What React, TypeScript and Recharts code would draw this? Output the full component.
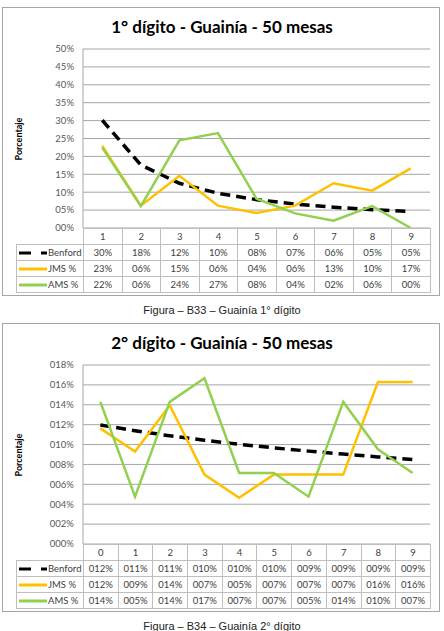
import React from "react";
import { LineChart, Line, XAxis, YAxis, CartesianGrid } from "recharts";

// first digit, 50 tables
const FIRST_DIGITS = [1, 2, 3, 4, 5, 6, 7, 8, 9];
const FIRST_BENFORD = [30.1, 17.6, 12.49, 9.69, 7.92, 6.69, 5.8, 5.12, 4.58];
const FIRST_JMS = [22.92, 6.25, 14.58, 6.25, 4.17, 6.25, 12.5, 10.42, 16.67];
const FIRST_AMS = [22.45, 6.12, 24.49, 26.53, 8.16, 4.08, 2.04, 6.12, 0];

// second digit, 50 tables
const SECOND_DIGITS = [0, 1, 2, 3, 4, 5, 6, 7, 8, 9];
const SECOND_BENFORD = [11.97, 11.39, 10.88, 10.43, 10.03, 9.67, 9.34, 9.04, 8.76, 8.5];
const SECOND_JMS = [11.63, 9.3, 13.95, 6.98, 4.65, 6.98, 6.98, 6.98, 16.28, 16.28];
const SECOND_AMS = [14.29, 4.76, 14.29, 16.67, 7.14, 7.14, 4.76, 14.29, 9.52, 7.14];

const BLACK = "#000000";
const ORANGE = "#FFC000";
const GREEN = "#92D050";
const GRID = "#a6a6a6";
const CELL = "#bfbfbf";
const FONT = "Lato, 'Open Sans', sans-serif";

const PLOT_L = 83;
const PLOT_R = 430;
const PLOT_T = 49;
const PLOT_B = 228;

type PanelProps = {
  top: number;
  title: string;
  caption: string;
  digits: number[];
  benford: number[];
  jms: number[];
  ams: number[];
  yMax: number;
  yStep: number;
  pad: number;
};

function Swatch({ color, dash }: { color: string; dash?: string }) {
  return (
    <svg width={31} height={6} style={{ display: "block", flex: "none" }}>
      <line x1={2} y1={3} x2={30} y2={3} stroke={color} strokeWidth={3} strokeDasharray={dash} />
    </svg>
  );
}

function Panel(p: PanelProps) {
  const rows = p.digits.map((d, i) => ({ d, benford: p.benford[i], jms: p.jms[i], ams: p.ams[i] }));
  const ticks: number[] = [];
  for (let v = 0; v <= p.yMax; v += p.yStep) ticks.push(v);
  const fmt = (v: number) => String(Math.round(v)).padStart(p.pad, "0") + "%";
  const colW = (PLOT_R - PLOT_L) / p.digits.length;

  const cell: React.CSSProperties = {
    border: `1px solid ${CELL}`,
    padding: 0,
    height: 15,
    lineHeight: "14px",
    textAlign: "center",
    verticalAlign: "middle",
  };

  const series = [
    { name: "Benford", values: p.benford, color: BLACK, dash: "12 10" },
    { name: "JMS %", values: p.jms, color: ORANGE },
    { name: "AMS %", values: p.ams, color: GREEN },
  ];

  return (
    <div style={{ position: "absolute", left: 0, top: p.top, width: 444, height: 316 }}>
      <div
        style={{
          position: "absolute",
          left: 2,
          top: 7,
          width: 438,
          height: 289,
          border: `1px solid ${GRID}`,
          boxSizing: "border-box",
        }}
      />
      <div
        style={{
          position: "absolute",
          left: 0,
          top: 16,
          width: 444,
          textAlign: "center",
          fontFamily: FONT,
          fontWeight: 700,
          fontSize: 17,
          lineHeight: "22px",
          color: "#000",
        }}
      >
        {p.title}
      </div>
      <div
        style={{
          position: "absolute",
          left: 18,
          top: (PLOT_T + PLOT_B) / 2,
          transform: "translate(-50%, -50%) rotate(-90deg)",
          fontFamily: FONT,
          fontWeight: 700,
          fontSize: 9,
          whiteSpace: "nowrap",
          color: "#000",
        }}
      >
        Porcentaje
      </div>
      <div style={{ position: "absolute", left: 0, top: 0 }}>
        <LineChart
          width={444}
          height={295}
          data={rows}
          margin={{ top: PLOT_T, right: 444 - PLOT_R, bottom: 295 - PLOT_B, left: 0 }}
        >
          <CartesianGrid vertical={false} stroke={GRID} />
          <XAxis
            type="number"
            dataKey="d"
            domain={[p.digits[0] - 0.5, p.digits[p.digits.length - 1] + 0.5]}
            hide
          />
          <YAxis
            width={PLOT_L}
            domain={[0, p.yMax]}
            ticks={ticks}
            interval={0}
            tickLine={false}
            tickMargin={3}
            axisLine={{ stroke: GRID }}
            tick={{ fontSize: 9.5, fill: "#595959", fontFamily: FONT }}
            tickFormatter={fmt}
          />
          <Line
            type="linear"
            dataKey="benford"
            stroke={BLACK}
            strokeWidth={3.5}
            strokeDasharray="10 6"
            dot={false}
            isAnimationActive={false}
          />
          <Line type="linear" dataKey="jms" stroke={ORANGE} strokeWidth={2.5} dot={false} isAnimationActive={false} />
          <Line type="linear" dataKey="ams" stroke={GREEN} strokeWidth={2.5} dot={false} isAnimationActive={false} />
        </LineChart>
      </div>
      <table
        style={{
          position: "absolute",
          left: 16,
          top: PLOT_B,
          borderCollapse: "collapse",
          tableLayout: "fixed",
          width: PLOT_R - 16,
          fontFamily: FONT,
          fontSize: 9.5,
          color: "#404040",
        }}
      >
        <colgroup>
          <col style={{ width: PLOT_L - 16 }} />
          {p.digits.map((d) => (
            <col key={d} style={{ width: colW }} />
          ))}
        </colgroup>
        <tbody>
          <tr>
            <td style={{ ...cell, border: "none" }} />
            {p.digits.map((d) => (
              <td key={d} style={cell}>
                {d}
              </td>
            ))}
          </tr>
          {series.map((s) => (
            <tr key={s.name}>
              <td style={{ ...cell, textAlign: "left" }}>
                <div style={{ display: "flex", alignItems: "center", whiteSpace: "nowrap" }}>
                  <Swatch color={s.color} dash={s.dash} />
                  <span>{s.name}</span>
                </div>
              </td>
              {s.values.map((v, i) => (
                <td key={i} style={cell}>
                  {fmt(v)}
                </td>
              ))}
            </tr>
          ))}
        </tbody>
      </table>
      <div
        style={{
          position: "absolute",
          left: 0,
          top: 303,
          width: 444,
          textAlign: "center",
          fontFamily: "'Liberation Sans', Arial, sans-serif",
          fontSize: 11,
          lineHeight: "14px",
          color: "#222",
        }}
      >
        {p.caption}
      </div>
    </div>
  );
}

export default function App() {
  return (
    <div style={{ position: "absolute", left: 0, top: 0, width: 444, height: 631, background: "#fff" }}>
      <Panel
        top={0}
        title="1° dígito - Guainía - 50 mesas"
        caption="Figura – B33 – Guainía 1° dígito"
        digits={FIRST_DIGITS}
        benford={FIRST_BENFORD}
        jms={FIRST_JMS}
        ams={FIRST_AMS}
        yMax={50}
        yStep={5}
        pad={2}
      />
      <Panel
        top={316}
        title="2° dígito - Guainía - 50 mesas"
        caption="Figura – B34 – Guainía 2° dígito"
        digits={SECOND_DIGITS}
        benford={SECOND_BENFORD}
        jms={SECOND_JMS}
        ams={SECOND_AMS}
        yMax={18}
        yStep={2}
        pad={3}
      />
    </div>
  );
}
